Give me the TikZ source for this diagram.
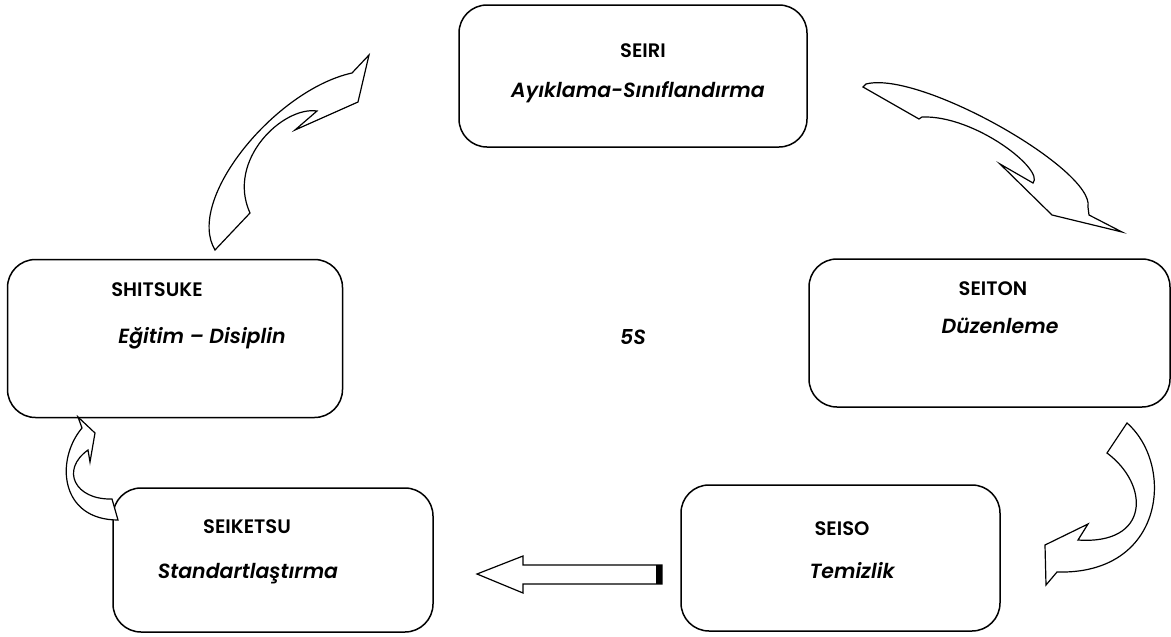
\documentclass[tikz,border=0pt]{standalone}
\usepackage{fontspec}
\setmainfont{Poppins}[BoldFont={Poppins SemiBold}, BoldItalicFont={Poppins SemiBold Italic}]
\begin{document}
\begin{tikzpicture}[x=1pt,y=-1pt,
  box/.style={draw, line width=1.5pt, rounded corners=28pt, inner sep=0pt},
  ttl/.style={anchor=base, font=\fontsize{19.5}{22}\selectfont\bfseries},
  sub/.style={anchor=base, font=\fontsize{20.5}{23}\selectfont\bfseries\itshape},
  arr/.style={draw, line width=1.2pt, fill=white, line join=miter}]
\useasboundingbox (0,0) rectangle (1171,637);

% boxes
\node[box, minimum width=348pt, minimum height=142pt] (seiri) at (633,76) {};
\node[box, minimum width=361pt, minimum height=148pt] (seiton) at (989.5,333) {};
\node[box, minimum width=319pt, minimum height=146pt] (seiso) at (840.5,558) {};
\node[box, minimum width=320pt, minimum height=144pt] (seiketsu) at (273,560) {};
\node[box, minimum width=335pt, minimum height=158pt] (shitsuke) at (175,338.5) {};

% texts
\node[ttl] (t1) at (643,57) {SEIRI};
\node[sub] (s1) at (638,97) {Ayıklama-Sınıflandırma};
\node[ttl] (t2) at (993,295) {SEITON};
\node[sub] (s2) at (1000,333) {Düzenleme};
\node[ttl] (t3) at (842,535) {SEISO};
\node[sub] (s3) at (852,578) {Temizlik};
\node[ttl] (t4) at (247,533) {SEIKETSU};
\node[sub] (s4) at (248,578) {Standartlaştırma};
\node[ttl] (t5) at (157,296) {SHITSUKE};
\node[sub] (s5) at (202,343) {Eğitim – Disiplin};
\node[sub] (five) at (633,344) {5S};

% arrow SEIRI -> SEITON
\draw[arr] (863,87) -- (919,119) -- (922,117)
  .. controls (975,115) and (1045,170) .. (1033,183)
  -- (1000,164) -- (1052,215) -- (1122,232) -- (1089,215) -- (1088,207)
  .. controls (1095,170) and (920,70) .. (866,84) -- cycle;

% arrow SEITON -> SEISO
\draw[arr] (1127,423) .. controls (1175,465) and (1165,575) .. (1057,572)
  -- (1046,585) -- (1045,545) -- (1088,524) -- (1078,540)
  .. controls (1150,545) and (1150,485) .. (1107,453) -- cycle;

% arrow SEISO -> SEIKETSU
\draw[arr] (662,565) -- (523,565) -- (523,556) -- (477,574) -- (523,593) -- (523,584) -- (662,584) -- cycle;
\fill (655.5,565) rectangle (662,584);

% arrow SEIKETSU -> SHITSUKE
\draw[arr] (118,520) .. controls (60,520) and (55,460) .. (82,428)
  -- (78,417) -- (95,433) -- (90,462) -- (88,450)
  .. controls (60,470) and (75,500) .. (112,499) -- cycle;

% arrow SHITSUKE -> SEIRI
\draw[arr] (215,250) .. controls (185,200) and (275,90) .. (352,73)
  -- (369,55) -- (358,102) -- (295,130) -- (317,111)
  .. controls (283,106) and (226,160) .. (250,213) -- cycle;
\end{tikzpicture}
\end{document}
